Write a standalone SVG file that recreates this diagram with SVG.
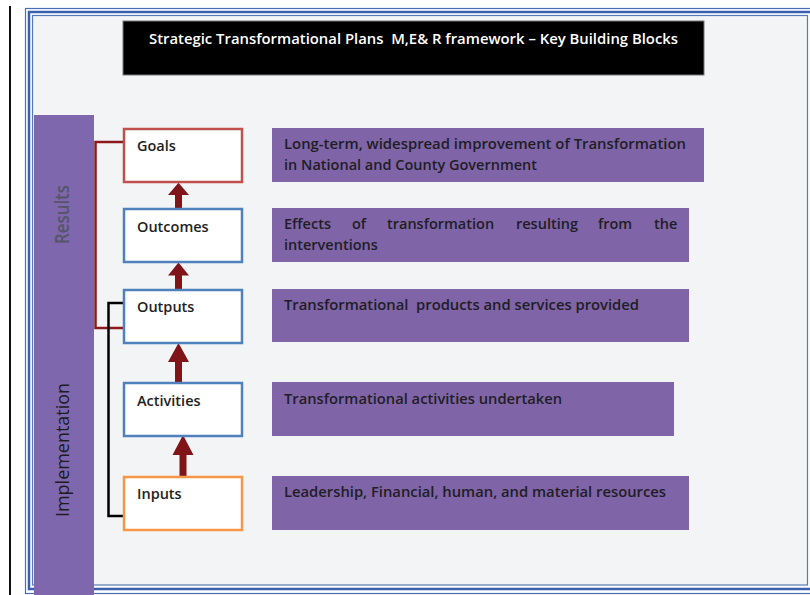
<svg xmlns="http://www.w3.org/2000/svg" width="810" height="595" viewBox="0 0 810 595">
<style>
.node rect{fill:#fff;stroke-width:2.5}
.lbl{font-family:"Open Sans","Liberation Sans",sans-serif;font-weight:600;font-size:14.5px;fill:#1e1e1e}
.desc rect{fill:#8064a8}
.dt{font-family:"Open Sans","Liberation Sans",sans-serif;font-weight:600;font-size:14.5px;fill:#1e1e24;white-space:pre}
.side{font-family:"Open Sans","Liberation Sans",sans-serif;font-size:19px}
</style>
<defs>
<path id="arr" d="M-3.5,0 V-20 H-10.5 L0,-39 L10.5,-20 H3.5 V0 Z" fill="#7f1419"/>
</defs>
<rect width="810" height="595" fill="#fff"/>
<line x1="10" y1="6" x2="10" y2="595" stroke="#111" stroke-width="2"/>
<g id="frame">
<rect x="25.5" y="8.5" width="800" height="585" fill="none" stroke="#4a6db8" stroke-width="1.2"/>
<rect x="29" y="12" width="800" height="577" fill="none" stroke="#3b5fae" stroke-width="2.5"/>
<rect x="32.5" y="15.5" width="775" height="569.5" fill="#f3f4f6" stroke="#5577bb" stroke-width="1.2"/>
</g>
<g id="title">
<rect x="123" y="21" width="581" height="54" fill="#000" stroke="#777" stroke-width="1"/>
<text x="413.5" y="44" text-anchor="middle" font-family="Open Sans, Liberation Sans, sans-serif" font-weight="600" font-size="14.5" fill="#fff" style="white-space:pre" textLength="529" lengthAdjust="spacingAndGlyphs">Strategic Transformational Plans  M,E&amp; R framework – Key Building Blocks</text>
</g>
<g id="sidebar">
<rect x="34" y="115" width="60" height="480" fill="#7f67ad"/>
<text class="side" transform="translate(69,214.5) rotate(-90)" text-anchor="middle" fill="#55556a" font-weight="600" textLength="59" lengthAdjust="spacingAndGlyphs">Results</text>
<text class="side" transform="translate(69,450) rotate(-90)" text-anchor="middle" fill="#1c1c24" font-weight="400" textLength="134" lengthAdjust="spacingAndGlyphs">Implementation</text>
</g>
<g id="connectors">
<polyline points="123,142 95.5,142 95.5,328 123,328" fill="none" stroke="#8b1a1c" stroke-width="2.5"/>
<polyline points="123,303 108.5,303 108.5,516 123,516" fill="none" stroke="#000" stroke-width="2.5"/>
<use href="#arr" transform="translate(178.5,208) scale(1,0.65)"/>
<use href="#arr" transform="translate(178.5,289) scale(1,0.68)"/>
<use href="#arr" transform="translate(178.5,382)"/>
<use href="#arr" transform="translate(183,476) scale(1,1.05)"/>
</g>
<g id="goals" class="node"><rect x="124" y="129" width="118" height="53" stroke="#c0504d"/><text class="lbl" x="137" y="151">Goals</text></g>
<g id="outcomes" class="node"><rect x="124" y="209" width="118" height="53" stroke="#4f81bd"/><text class="lbl" x="137" y="232">Outcomes</text></g>
<g id="outputs" class="node"><rect x="124" y="290" width="118" height="53" stroke="#4f81bd"/><text class="lbl" x="137" y="312">Outputs</text></g>
<g id="activities" class="node"><rect x="124" y="383" width="118" height="53" stroke="#4f81bd"/><text class="lbl" x="137" y="406">Activities</text></g>
<g id="inputs" class="node"><rect x="124" y="477" width="118" height="53" stroke="#f79646"/><text class="lbl" x="137" y="499">Inputs</text></g>
<g id="desc-goals" class="desc"><rect x="272" y="128" width="432" height="54"/>
<text class="dt" x="284" y="149" textLength="402" lengthAdjust="spacingAndGlyphs">Long-term, widespread improvement of Transformation</text>
<text class="dt" x="284" y="170">in National and County Government</text></g>
<g id="desc-outcomes" class="desc"><rect x="272" y="208" width="417" height="54"/>
<text class="dt" y="229"><tspan x="284">Effects</tspan><tspan x="352">of</tspan><tspan x="387">transformation</tspan><tspan x="516">resulting</tspan><tspan x="598">from</tspan><tspan x="654">the</tspan></text>
<text class="dt" x="284" y="250">interventions</text></g>
<g id="desc-outputs" class="desc"><rect x="272" y="289" width="417" height="53"/>
<text class="dt" x="284" y="310" textLength="355" lengthAdjust="spacingAndGlyphs">Transformational  products and services provided</text></g>
<g id="desc-activities" class="desc"><rect x="272" y="382" width="402" height="54"/>
<text class="dt" x="284" y="404" textLength="278" lengthAdjust="spacingAndGlyphs">Transformational activities undertaken</text></g>
<g id="desc-inputs" class="desc"><rect x="272" y="476" width="417" height="54"/>
<text class="dt" x="284" y="497" textLength="382" lengthAdjust="spacingAndGlyphs">Leadership, Financial, human, and material resources</text></g>
</svg>
